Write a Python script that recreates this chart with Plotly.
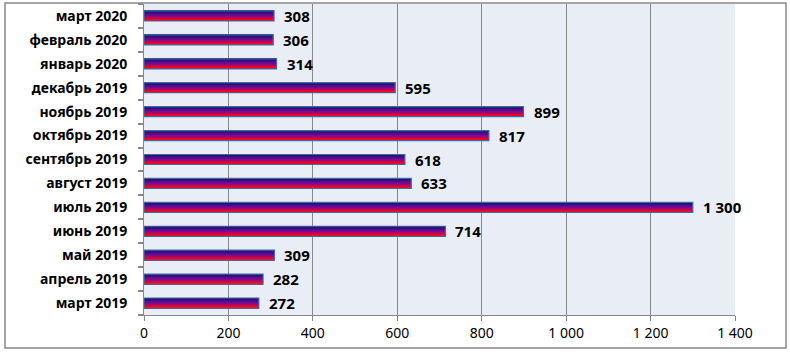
import plotly.graph_objects as go

categories = ["март 2019", "апрель 2019", "май 2019", "июнь 2019", "июль 2019",
              "август 2019", "сентябрь 2019", "октябрь 2019", "ноябрь 2019",
              "декабрь 2019", "январь 2020", "февраль 2020", "март 2020"]
values = [272, 282, 309, 714, 1300, 633, 618, 817, 899, 595, 314, 306, 308]
value_labels = ["272", "282", "309", "714", "1 300", "633", "618", "817", "899",
                "595", "314", "306", "308"]
x_tickvals = [0, 200, 400, 600, 800, 1000, 1200, 1400]
x_ticktext = ["0", "200", "400", "600", "800", "1 000", "1 200", "1 400"]

stops = [(0.0, (255, 0, 10)), (0.2, (250, 0, 30)), (0.55, (120, 10, 150)), (1.0, (30, 15, 115))]

def grad(t):
    for (t0, c0), (t1, c1) in zip(stops[:-1], stops[1:]):
        if t0 <= t <= t1:
            f = (t - t0) / (t1 - t0)
            return "rgb(%d,%d,%d)" % tuple(round(a + (b - a) * f) for a, b in zip(c0, c1))
    return "rgb(%d,%d,%d)" % stops[-1][1]

n = len(categories)
bar_w = 0.42
N = 14
fig = go.Figure()
for i in range(N):
    t = (i + 0.5) / N
    fig.add_trace(go.Bar(
        x=values, y=categories, orientation="h",
        width=bar_w / N, offset=-bar_w / 2 + i * bar_w / N,
        marker=dict(color=grad(t), line=dict(width=0)),
        hoverinfo="skip", showlegend=False))

fig.add_trace(go.Bar(
    x=values, y=categories, orientation="h",
    width=bar_w, offset=-bar_w / 2,
    marker=dict(color="rgba(0,0,0,0)", line=dict(color="#3b6ea5", width=1.2)),
    showlegend=False))

# invisible helper trace on a numeric overlay axis carrying the boundary ticks
fig.add_trace(go.Scatter(x=values, y=list(range(n)), yaxis="y2", mode="markers",
                         marker=dict(opacity=0), hoverinfo="skip", showlegend=False))

for v, c, lab in zip(values, categories, value_labels):
    fig.add_annotation(x=v, y=c, text="<b>" + lab + "</b>", showarrow=False,
                       xanchor="left", xshift=8,
                       font=dict(family="Noto Sans", size=15, color="black"))

fig.update_layout(
    width=790, height=352,
    margin=dict(l=144, r=55, t=4, b=37),
    barmode="overlay",
    plot_bgcolor="#e9edf6",
    paper_bgcolor="white",
    font=dict(family="Noto Sans", size=13, color="black"),
    xaxis=dict(range=[0, 1400], tickvals=x_tickvals, ticktext=x_ticktext,
               showgrid=True, gridcolor="#878787", gridwidth=1,
               showline=True, linecolor="#878787", linewidth=1,
               ticks="outside", ticklen=5, tickcolor="#878787",
               tickfont=dict(family="Noto Sans", size=14, color="black"),
               zeroline=False, fixedrange=True),
    yaxis=dict(type="category", categoryorder="array", categoryarray=categories,
               range=[-0.5, n - 0.5],
               showline=True, linecolor="#878787", linewidth=1,
               ticks="", showgrid=False,
               tickfont=dict(family="Noto Sans", size=14, color="black", weight="bold"),
               ticklabelstandoff=13,
               fixedrange=True),
    yaxis2=dict(overlaying="y", side="left", anchor="x", type="linear",
                range=[-0.5, n - 0.5],
                tickvals=[i - 0.5 for i in range(n + 1)],
                showticklabels=False, showgrid=False, zeroline=False,
                showline=False, ticks="outside", ticklen=5,
                tickcolor="#878787", tickwidth=1.5, fixedrange=True),
    shapes=[dict(type="rect", xref="paper", yref="paper",
                 x0=(5 - 144) / 591, x1=(786 - 144) / 591,
                 y0=-(348 - 315) / 311, y1=(315 - 3) / 311,
                 line=dict(color="#888888", width=1.5), fillcolor="rgba(0,0,0,0)",
                 layer="below")],
)

fig.write_html("out.html")
